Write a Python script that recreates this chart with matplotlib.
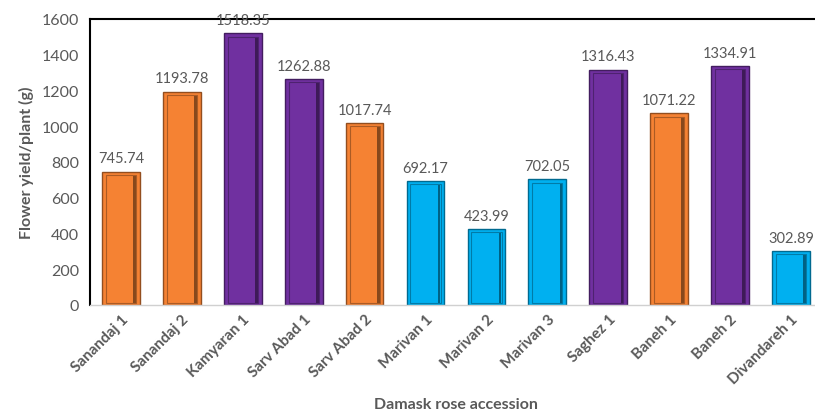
import matplotlib
matplotlib.use("Agg")
import matplotlib.pyplot as plt
from matplotlib.colors import to_rgb

# Data
accessions = ['Sanandaj 1', 'Sanandaj 2', 'Kamyaran 1', 'Sarv Abad 1', 'Sarv Abad 2',
              'Marivan 1', 'Marivan 2', 'Marivan 3', 'Saghez 1', 'Baneh 1', 'Baneh 2',
              'Divandareh 1']
yields = [745.74, 1193.78, 1518.35, 1262.88, 1017.74, 692.17, 423.99, 702.05,
          1316.43, 1071.22, 1334.91, 302.89]
groups = ['o', 'o', 'p', 'p', 'o', 'b', 'b', 'b', 'p', 'o', 'p', 'b']

colors = {'o': '#F58233', 'p': '#7030A0', 'b': '#00B0F0'}

plt.rcParams['font.family'] = ['Lato', 'DejaVu Sans']

def shade(c, f):
    r, g, b = to_rgb(c)
    return (r * f, g * f, b * f)

fig = plt.figure(figsize=(8.15, 4.14), dpi=100)
ax = fig.add_axes([0.111, 0.261, 0.897, 0.691])

x = list(range(len(accessions)))
width = 0.62
for xi, val, g in zip(x, yields, groups):
    c = colors[g]
    # outer bar with dark rim
    ax.bar(xi, val, width=width, color=c, edgecolor=shade(c, 0.6), linewidth=1.0, zorder=2)
    # darker strip on the right side for the bevel look
    ax.bar(xi + width * 0.36, val - 30, bottom=12, width=width * 0.07,
           color=shade(c, 0.55), linewidth=0, zorder=3)
    # inner bevel outline
    ax.bar(xi, val - 30, bottom=12, width=width * 0.8, color='none',
           edgecolor=shade(c, 0.7), linewidth=0.8, zorder=3)
    ax.text(xi, val + 35, f'{val:.2f}', ha='center', va='bottom', fontsize=10.5,
            color='#595959', zorder=4)

ax.set_xlim(-0.5, len(accessions) - 0.5)
ax.set_ylim(0, 1600)
ax.set_yticks(range(0, 1601, 200))
ax.tick_params(axis='y', length=0, labelsize=11.5, labelcolor='#595959', pad=8)
ax.tick_params(axis='x', length=0, pad=5)
ax.set_xticks(x)
ax.set_xticklabels(accessions, rotation=45, ha='right', rotation_mode='anchor',
                   fontsize=11, fontweight='bold', color='#595959')

ax.spines['right'].set_visible(False)
ax.spines['left'].set_color('black')
ax.spines['left'].set_linewidth(1.5)
ax.spines['top'].set_color('black')
ax.spines['top'].set_linewidth(1.5)
ax.spines['bottom'].set_color('#D0D0D0')
ax.spines['bottom'].set_linewidth(1.0)

ax.set_ylabel('Flower yield/plant (g)', fontsize=11.5, fontweight='bold', color='#595959', labelpad=6)
ax.set_xlabel('Damask rose accession', fontsize=11.5, fontweight='bold', color='#595959', labelpad=8)

fig.savefig('out.png', dpi=100)
